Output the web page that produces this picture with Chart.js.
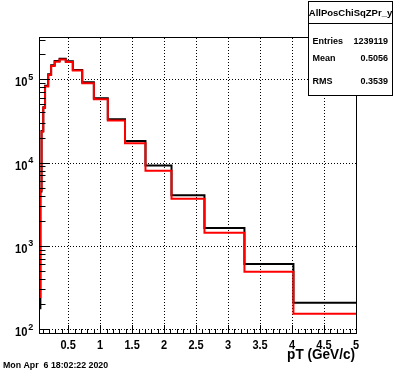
<!DOCTYPE html>
<html>
<head>
<meta charset="utf-8">
<script src="https://cdn.jsdelivr.net/npm/chart.js@4"></script>
<style>
  html, body { margin: 0; padding: 0; background: #fff; }
  canvas { display: block; }
</style>
</head>
<body>
<canvas id="histChart" width="396" height="372"></canvas>
<script>
// variable-width pT bins (GeV/c)
var binEdges = [0.04, 0.066, 0.084, 0.111, 0.139, 0.188, 0.234, 0.289, 0.366, 0.463, 0.573,
                0.72, 0.902, 1.12, 1.389, 1.709, 2.116, 2.631, 3.256, 4.022, 5.0];
// black histogram (drawn first, owns the stats box)
var blackCounts = [178, 4500, 23900, 46000, 83500, 114800, 147000, 165500, 176000, 164200, 129500,
                   92000, 59200, 33100, 18200, 9200, 4050, 1640, 607, 208];
// red histogram (drawn "same")
var redCounts = [244, 4700, 23500, 45200, 82000, 112700, 144500, 162600, 173000, 161400, 127500,
                 89600, 57500, 32000, 17100, 8000, 3690, 1440, 490, 153];

var xTickValues = [0.5, 1, 1.5, 2, 2.5, 3, 3.5, 4, 4.5, 5];
var xTickLabels = ['0.5', '1', '1.5', '2', '2.5', '3', '3.5', '4', '4.5', '5'];
var yDecades = [100, 1000, 10000, 100000];
var yDecadeExp = ['2', '3', '4', '5'];

var statsTitle = 'AllPosChiSqZPr_y';
var statsNames = ['Entries', 'Mean', 'RMS'];
var statsValues = ['1239119', '0.5056', '0.3539'];
var xAxisTitle = 'pT (GeV/c)';
var dateStamp = 'Mon Apr  6 18:02:22 2020';

var FONT = '"Liberation Sans", Arial, Helvetica, sans-serif';

// histogram outline: up from below the frame, then one point per bin, closing at the last edge
function histPoints(edges, counts) {
  var pts = [{x: edges[0], y: 1}];
  for (var i = 0; i < counts.length; i++) {
    pts.push({x: edges[i], y: counts[i]});
  }
  pts.push({x: edges[edges.length - 1], y: counts[counts.length - 1]});
  return pts;
}

function drawText(ctx, s, x, y, size, align, sx) {
  ctx.save();
  ctx.font = 'bold ' + size + 'px ' + FONT;
  ctx.fillStyle = '#000';
  ctx.textAlign = align;
  ctx.textBaseline = 'alphabetic';
  ctx.translate(x, y);
  ctx.scale(sx, 1);
  ctx.fillText(s, 0, 0);
  ctx.restore();
}

function hLine(ctx, x1, x2, y) {
  ctx.beginPath(); ctx.moveTo(x1, y); ctx.lineTo(x2, y); ctx.stroke();
}
function vLine(ctx, x, y1, y2) {
  ctx.beginPath(); ctx.moveTo(x, y1); ctx.lineTo(x, y2); ctx.stroke();
}

var rootFrame = {
  id: 'rootFrame',
  beforeDatasetsDraw(chart) {
    var ctx = chart.ctx, a = chart.chartArea;
    var xs = chart.scales.x, ys = chart.scales.y;
    ctx.save();
    ctx.strokeStyle = '#000';
    ctx.lineWidth = 1;
    ctx.setLineDash([1, 2]);
    // dotted grid at the major ticks
    xTickValues.forEach(function (v) {
      if (v >= xs.max) return;
      var px = Math.round(xs.getPixelForValue(v)) + 0.5;
      vLine(ctx, px, a.top, a.bottom);
    });
    yDecades.forEach(function (v) {
      var py = Math.round(ys.getPixelForValue(v)) + 0.5;
      hLine(ctx, a.left, a.right, py);
    });
    ctx.restore();
  },
  afterDatasetsDraw(chart) {
    var ctx = chart.ctx, a = chart.chartArea;
    var xs = chart.scales.x, ys = chart.scales.y;
    ctx.save();
    ctx.strokeStyle = '#000';
    ctx.lineWidth = 1;
    ctx.setLineDash([]);

    // frame
    ctx.strokeRect(a.left - 0.5, a.top - 0.5, a.right - a.left + 1, a.bottom - a.top + 1);

    // x ticks: major every 0.5, minor every 0.1
    for (var k = 1; k < 50; k++) {
      var v = k / 10;
      if (v < xs.min) continue;
      var px = Math.round(xs.getPixelForValue(v)) + 0.5;
      var len = (k % 5 === 0) ? 8 : 4;
      vLine(ctx, px, a.bottom, a.bottom - len);
    }
    // y ticks: major at decades, minor at 2..9
    [10, 100, 1000, 10000, 100000].forEach(function (d) {
      for (var m = 1; m <= 9; m++) {
        var v = m * d;
        if (v < ys.min || v > ys.max) continue;
        var py = Math.round(ys.getPixelForValue(v)) + 0.5;
        hLine(ctx, a.left, a.left + (m === 1 ? 10 : 5.5), py);
      }
    });

    // x labels
    xTickValues.forEach(function (v, i) {
      drawText(ctx, xTickLabels[i], xs.getPixelForValue(v), 348.5, 12.5, 'center', 0.88);
    });
    // y labels 10^n
    yDecades.forEach(function (v, i) {
      var py = ys.getPixelForValue(v);
      drawText(ctx, '10', 27.5, py + 7, 13, 'right', 0.86);
      drawText(ctx, yDecadeExp[i], 28.3, py + 0.5, 9.5, 'left', 0.95);
    });

    drawText(ctx, xAxisTitle, 355, 359, 14, 'right', 0.97);
    drawText(ctx, dateStamp, 3, 367.5, 8.8, 'left', 1);

    // stats box
    ctx.fillStyle = '#fff';
    ctx.fillRect(308.5, 1.5, 84, 94);
    ctx.strokeRect(308.5, 1.5, 84, 94);
    hLine(ctx, 308.5, 392.5, 23.5);
    drawText(ctx, statsTitle, 350.5, 16, 9.5, 'center', 1);
    var rowY = [43.5, 61, 83.5];
    statsNames.forEach(function (n, i) {
      drawText(ctx, n, 312.5, rowY[i], 9, 'left', 1);
      drawText(ctx, statsValues[i], 388, rowY[i], 9, 'right', 1);
    });
    ctx.restore();
  }
};

new Chart('histChart', {
  type: 'line',
  data: {
    datasets: [{
      label: 'AllPosChiSqZPr_y',
      data: histPoints(binEdges, blackCounts),
      borderColor: '#000',
      borderWidth: 2,
      stepped: true,
      pointRadius: 0,
      fill: false,
      clip: 0,
      order: 2
    }, {
      label: 'red',
      data: histPoints(binEdges, redCounts),
      borderColor: '#ff0000',
      borderWidth: 2,
      stepped: true,
      pointRadius: 0,
      fill: false,
      clip: 0,
      order: 1
    }]
  },
  options: {
    responsive: false,
    animation: false,
    devicePixelRatio: 1,
    parsing: true,
    layout: { padding: { left: 40, right: 40, top: 38, bottom: 39 } },
    plugins: { legend: { display: false }, tooltip: { enabled: false } },
    scales: {
      x: { type: 'linear', min: 0.06, max: 5, display: false },
      y: { type: 'logarithmic', min: 90, max: 313000, display: false }
    }
  },
  plugins: [rootFrame]
});
</script>
</body>
</html>
